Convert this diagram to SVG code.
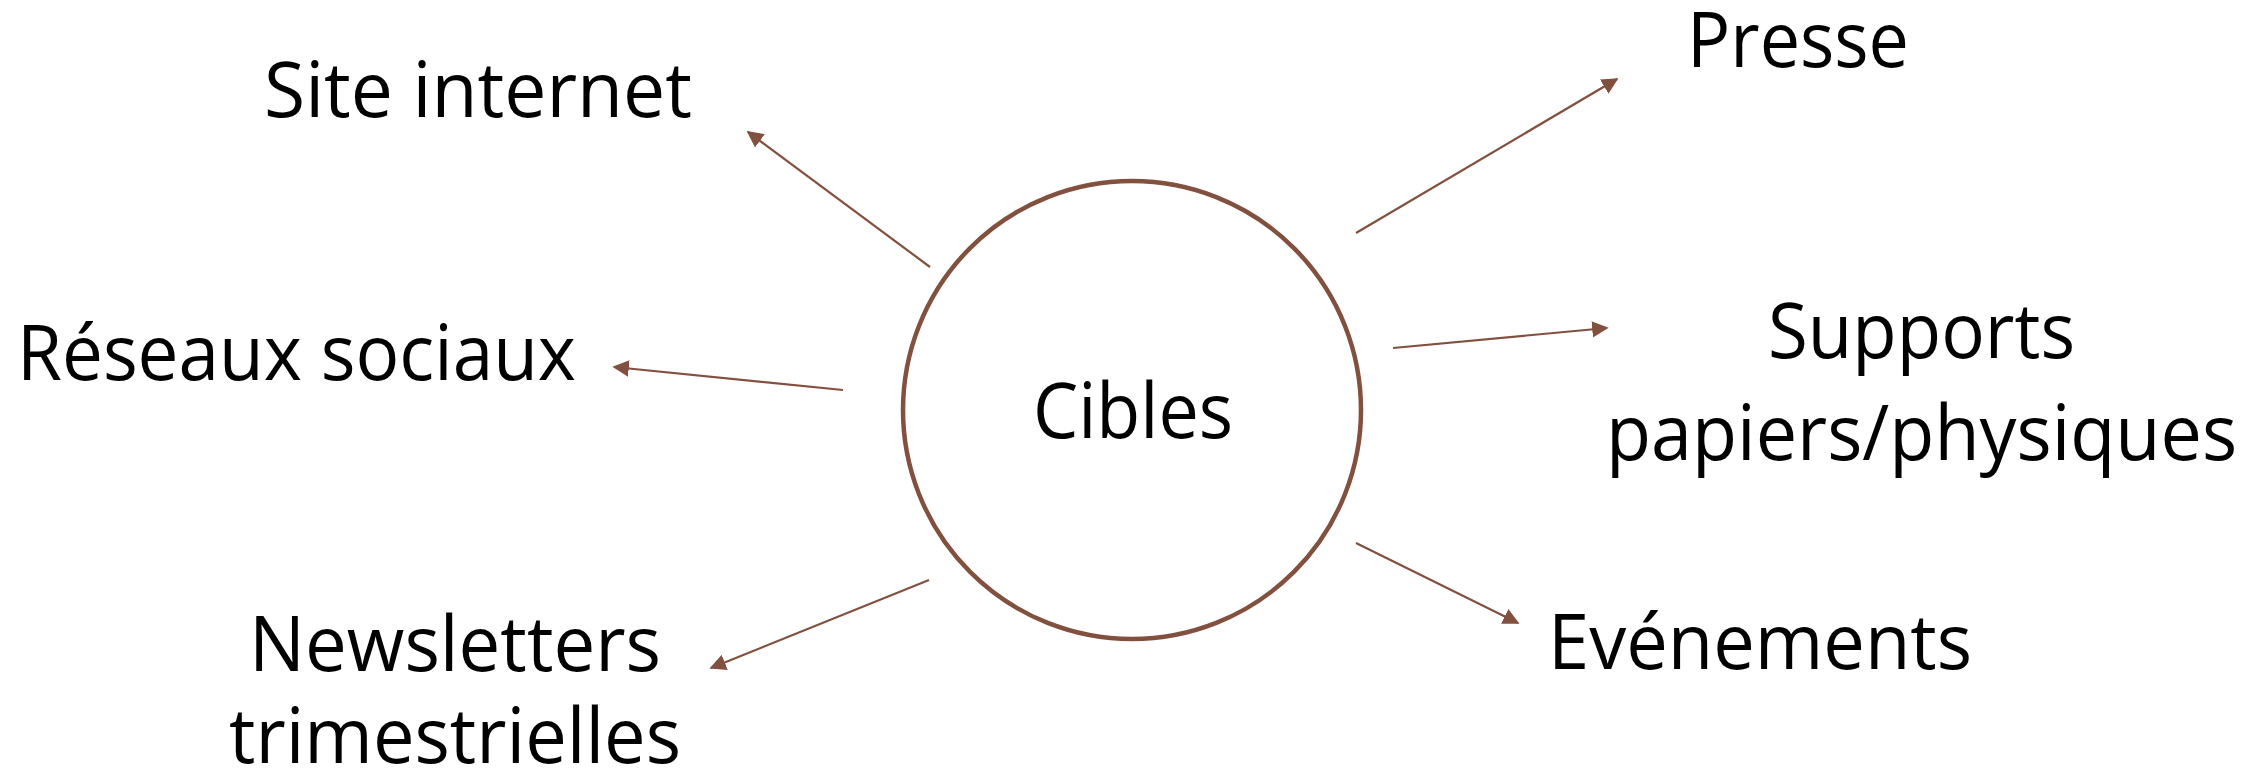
<svg xmlns="http://www.w3.org/2000/svg" width="2247" height="779" viewBox="0 0 2247 779">
<style>
.t{font-family:"Open Sans","Noto Sans","Liberation Sans",sans-serif;font-size:76px;fill:#000}
.c{stroke:#82503f;stroke-width:2.2;fill:none}
</style>
<defs>
<marker id="ah" viewBox="0 0 10 10" refX="9" refY="5" markerWidth="7.5" markerHeight="7.5" markerUnits="strokeWidth" orient="auto">
<path d="M0,0 L10,5 L0,10 z" fill="#82503f"/>
</marker>
</defs>
<rect width="2247" height="779" fill="#fff"/>
<g id="connectors">
<line class="c" x1="930" y1="267" x2="748" y2="132" marker-end="url(#ah)"/>
<line class="c" x1="1356" y1="233" x2="1617" y2="79" marker-end="url(#ah)"/>
<line class="c" x1="843" y1="390" x2="614" y2="367" marker-end="url(#ah)"/>
<line class="c" x1="1393" y1="348" x2="1607" y2="328" marker-end="url(#ah)"/>
<line class="c" x1="929" y1="580" x2="711" y2="668" marker-end="url(#ah)"/>
<line class="c" x1="1356" y1="543" x2="1518" y2="623" marker-end="url(#ah)"/>
</g>
<g id="cibles">
<circle cx="1132" cy="410" r="229" fill="#fff" stroke="#82503f" stroke-width="4.5"/>
<text class="t" x="1133" y="438" text-anchor="middle" textLength="200" lengthAdjust="spacingAndGlyphs">Cibles</text>
</g>
<g id="site-internet">
<text class="t" x="264" y="117" textLength="428" lengthAdjust="spacingAndGlyphs">Site internet</text>
</g>
<g id="presse">
<text class="t" x="1687" y="67" textLength="222" lengthAdjust="spacingAndGlyphs">Presse</text>
</g>
<g id="reseaux-sociaux">
<text class="t" x="17" y="380" textLength="559" lengthAdjust="spacingAndGlyphs">Réseaux sociaux</text>
</g>
<g id="supports">
<text class="t" x="1768" y="358" textLength="307" lengthAdjust="spacingAndGlyphs">Supports</text>
<text class="t" x="1606" y="460" textLength="631" lengthAdjust="spacingAndGlyphs">papiers/physiques</text>
</g>
<g id="newsletters">
<text class="t" x="249" y="671" textLength="412" lengthAdjust="spacingAndGlyphs">Newsletters</text>
<text class="t" x="229" y="763" textLength="452" lengthAdjust="spacingAndGlyphs">trimestrielles</text>
</g>
<g id="evenements">
<text class="t" x="1548" y="669" textLength="424" lengthAdjust="spacingAndGlyphs">Evénements</text>
</g>
</svg>
